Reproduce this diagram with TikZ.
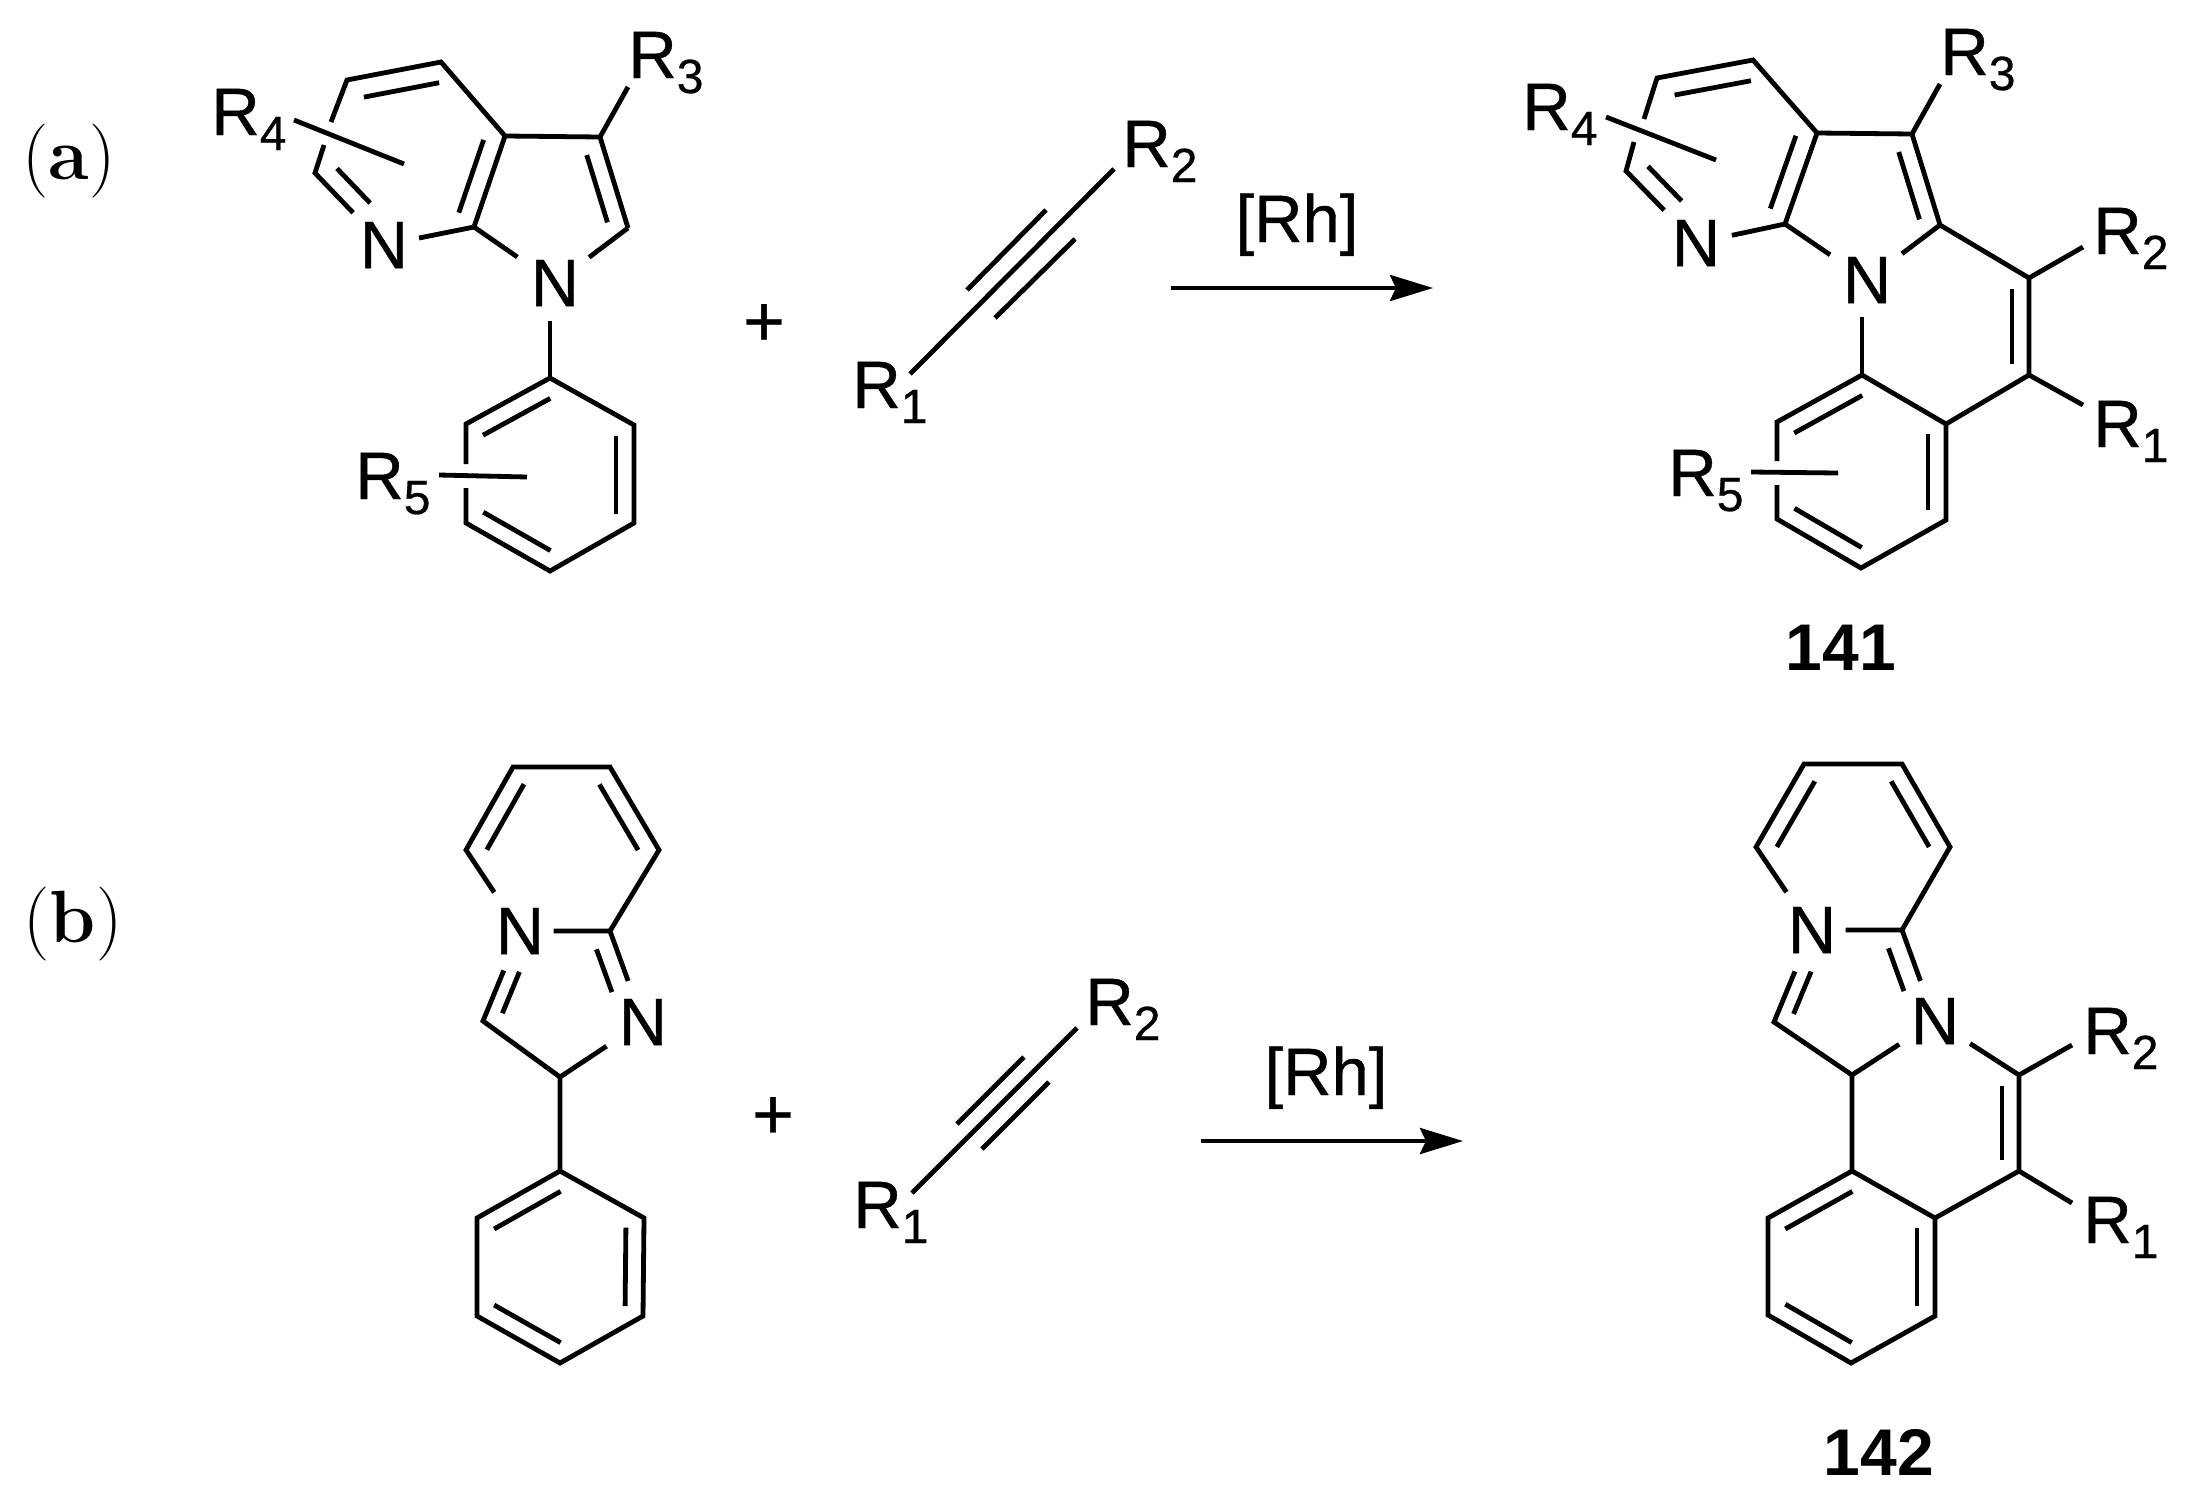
\documentclass[tikz,border=0pt]{standalone}
\usepackage{fontspec}
\newfontfamily\arial{Liberation Sans}
\newfontfamily\arialt[FakeBold=0.6]{Liberation Sans}
\usetikzlibrary{calc,arrows.meta}
\newcommand\inbond[5]{\draw[bond] ($(#1)!#4!(#2)!#3!90:(#2)$) -- ($(#1)!#5!(#2)!#3!90:(#2)$);}
\newcommand\Rs[1]{R\raisebox{-7.5pt}{\fontsize{24}{26}\selectfont #1}}
\tikzset{
  x=0.5pt,y=-0.5pt,
  bond/.style={line width=2.4pt,line join=miter,line cap=butt},
  atom/.style={circle,inner sep=0pt,minimum size=30pt,font=\arialt\fontsize{33.5}{40}\selectfont},
  rgroup/.style={anchor=base west,inner sep=0pt,font=\arialt\fontsize{33.5}{40}\selectfont},
  cat/.style={anchor=base,inner sep=0pt,font=\arialt\fontsize{33.5}{40}\selectfont},
  plus/.style={inner sep=0pt,font=\arialt\fontsize{36}{40}\selectfont},
  cpd/.style={inner sep=0pt,font=\arial\bfseries\fontsize{33}{38}\selectfont},
  tag/.style={inner sep=0pt,font=\fontsize{37}{40}\selectfont},
  rxn/.style={line width=2.3pt,-{Stealth[length=21.5pt,width=13pt,inset=3pt]}}
}
\begin{document}
\begin{tikzpicture}
\useasboundingbox (0,0) rectangle (2187,1499);
\fill[white] (0,0) rectangle (2187,1499);
% tags
\node[tag] (taga) at (69,161) {(\textbf{a})};
\node[tag] (tagb) at (73,924) {(\textbf{b})};

% ---------- reactant a
\coordinate (a1) at (441,62); \coordinate (a2) at (347,80); \coordinate (a3) at (315,173);
\coordinate (a4) at (474,227); \coordinate (a5) at (505,136); \coordinate (a6) at (600,137);
\coordinate (a7) at (628,228);
\coordinate (ag1) at (331,122); \coordinate (ag2) at (324,145);
\node[atom] (an) at (384,245) {N};
\node[atom] (an1) at (555,283) {N};
\coordinate (ap1) at (550,378); \coordinate (ap2) at (466,424); \coordinate (ap3) at (466,523);
\coordinate (ap4) at (550,571); \coordinate (ap5) at (634,523); \coordinate (ap6) at (634,425);
\coordinate (apg1) at (466,464); \coordinate (apg2) at (466,488);
\node[rgroup] (ar3) at (628,78) {\Rs{3}};
\node[rgroup] (ar4) at (211,135) {\Rs{4}};
\node[rgroup] (ar5) at (355,499) {\Rs{5}};
\coordinate (ar3e) at (628,87);
\coordinate (ar4s) at (294,120); \coordinate (ar4e) at (404,164);
\coordinate (ar5s) at (439,475); \coordinate (ar5e) at (527,477);
\draw[bond] (ag1) -- (a2) -- (a1) -- (a5) -- (a4);
\draw[bond,shorten >=5.5pt] (ag2) -- (a3) -- (an);
\draw[bond,shorten >=1pt] (a4) -- (an);
\draw[bond,shorten >=6pt] (a4) -- (an1);
\draw[bond] (a5) -- (a6) -- (a7);
\draw[bond,shorten >=4.5pt] (a7) -- (an1);
\draw[bond] (a6) -- (ar3e);
\draw[bond] (ar4s) -- (ar4e);
\draw[bond,shorten >=2pt] (ap1) -- (ap1 |- an1.south);
\draw[bond] (apg1) -- (ap2) -- (ap1) -- (ap6) -- (ap5) -- (ap4) -- (ap3) -- (apg2);
\draw[bond] (ar5s) -- (ar5e);
\inbond{a1}{a2}{10pt}{.06}{.86}
\inbond{a3}{an}{9.5pt}{.12}{.6}
\inbond{a5}{a4}{-9.5pt}{.11}{.91}
\inbond{a6}{a7}{-9pt}{.14}{.88}
\inbond{ap1}{ap2}{9pt}{.1}{.9}
\inbond{ap5}{ap6}{9pt}{.09}{.89}
\inbond{ap3}{ap4}{9pt}{.1}{.9}

% ---------- alkyne a
\node[plus] (plusa) at (764,325) {+};
\node[rgroup] (ar2) at (1122,167) {\Rs{2}};
\node[rgroup] (ar1) at (852,408) {\Rs{1}};
\coordinate (ay1) at (910,374); \coordinate (ay2) at (1114,169);
\coordinate (ay3) at (1046,210); \coordinate (ay4) at (967,290);
\coordinate (ay5) at (1075,239); \coordinate (ay6) at (995,318);
\draw[bond] (ay1) -- (ay2);
\draw[bond] (ay3) -- (ay4);
\draw[bond] (ay5) -- (ay6);
\node[cat] (rha) at (1297,242) {[Rh]};
\coordinate (ara) at (1171,288); \coordinate (arb) at (1433,288);
\draw[rxn] (ara) -- (arb);

% ---------- product a (141)
\coordinate (b1) at (1753,60); \coordinate (b2) at (1657,78); \coordinate (b3) at (1626,171);
\coordinate (b4) at (1785,224); \coordinate (b5) at (1817,133); \coordinate (b6) at (1912,134);
\coordinate (b7) at (1940,225); \coordinate (b8) at (2029,278); \coordinate (b9) at (2029,375);
\coordinate (bg1) at (1644,119); \coordinate (bg2) at (1634,142);
\node[atom] (bn) at (1696,243) {N};
\node[atom] (bn1) at (1867,280) {N};
\coordinate (bp1) at (1862,375); \coordinate (bp2) at (1777,422); \coordinate (bp3) at (1777,519);
\coordinate (bp4) at (1861,568); \coordinate (bp5) at (1946,520); \coordinate (bp6) at (1946,424);
\coordinate (bpg1) at (1777,461); \coordinate (bpg2) at (1777,485);
\node[rgroup] (br3) at (1940,75) {\Rs{3}};
\node[rgroup] (br4) at (1522,130) {\Rs{4}};
\node[rgroup] (br5) at (1668,496) {\Rs{5}};
\node[rgroup] (br2) at (2093,254) {\Rs{2}};
\node[rgroup] (br1) at (2093,447) {\Rs{1}};
\coordinate (br3e) at (1940,84);
\coordinate (br4s) at (1606,117); \coordinate (br4e) at (1716,160);
\coordinate (br5s) at (1751,472); \coordinate (br5e) at (1838,473);
\coordinate (br2e) at (2083,247); \coordinate (br1e) at (2083,405);
\draw[bond] (bg1) -- (b2) -- (b1) -- (b5) -- (b4);
\draw[bond,shorten >=6pt] (bg2) -- (b3) -- (bn);
\draw[bond,shorten >=1.5pt] (b4) -- (bn);
\draw[bond,shorten >=5.5pt] (b4) -- (bn1);
\draw[bond] (b5) -- (b6) -- (b7);
\draw[bond,shorten >=5pt] (b7) -- (bn1);
\draw[bond] (b6) -- (br3e);
\draw[bond] (b7) -- (b8) -- (b9) -- (bp6);
\draw[bond] (br2e) -- (b8);
\draw[bond] (br1e) -- (b9);
\draw[bond] (br4s) -- (br4e);
\draw[bond,shorten >=1.5pt] (bp1) -- (bp1 |- bn1.south);
\draw[bond] (bpg1) -- (bp2) -- (bp1) -- (bp6) -- (bp5) -- (bp4) -- (bp3) -- (bpg2);
\draw[bond] (br5s) -- (br5e);
\inbond{b1}{b2}{10pt}{.06}{.855}
\inbond{b3}{bn}{9.5pt}{.12}{.6}
\inbond{b5}{b4}{-9.5pt}{.1}{.9}
\inbond{b6}{b7}{-9pt}{.14}{.88}
\inbond{b8}{b9}{-8.5pt}{.11}{.89}
\inbond{bp1}{bp2}{9pt}{.1}{.9}
\inbond{bp5}{bp6}{9pt}{.1}{.9}
\inbond{bp3}{bp4}{9pt}{.1}{.9}
\node[cpd] (c141) at (1841,648) {141};

% ---------- reactant b
\coordinate (c1) at (513,767); \coordinate (c2) at (610,767); \coordinate (c3) at (659,850);
\coordinate (c4) at (610,931); \coordinate (c5) at (466,850); \coordinate (c6) at (483,1021);
\coordinate (c7) at (560,1077);
\node[atom] (cn) at (520,931) {N};
\node[atom] (cn2) at (643,1022) {N};
\coordinate (cp1) at (560,1171); \coordinate (cp2) at (477,1218); \coordinate (cp3) at (477,1316);
\coordinate (cp4) at (560,1363); \coordinate (cp5) at (643,1316); \coordinate (cp6) at (644,1218);
\draw[bond,shorten <=6.4pt] (cn) -- (c5) -- (c1) -- (c2) -- (c3) -- (c4) -- (cn);
\draw[bond,shorten <=4.5pt] (cn) -- (c6) -- (c7) -- (cp1);
\draw[bond,shorten >=5pt] (c4) -- (cn2);
\draw[bond,shorten >=5pt] (c7) -- (cn2);
\draw[bond] (cp1) -- (cp2) -- (cp3) -- (cp4) -- (cp5) -- (cp6) -- (cp1) -- cycle;
\inbond{c5}{c1}{-9pt}{.11}{.9}
\inbond{c2}{c3}{-9pt}{.1}{.89}
\inbond{cn}{c6}{7.5pt}{.39}{.85}
\inbond{c4}{cn2}{-9.5pt}{.13}{.6}
\inbond{cp1}{cp2}{9pt}{.1}{.9}
\inbond{cp5}{cp6}{9pt}{.1}{.9}
\inbond{cp3}{cp4}{9pt}{.1}{.9}

% ---------- alkyne b
\node[plus] (plusb) at (773,1118) {+};
\node[rgroup] (cr2) at (1085,1025) {\Rs{2}};
\node[rgroup] (cr1) at (853,1228) {\Rs{1}};
\coordinate (cy1) at (912,1193); \coordinate (cy2) at (1077,1028);
\coordinate (cy3) at (1024,1057); \coordinate (cy4) at (957,1124);
\coordinate (cy5) at (1049,1082); \coordinate (cy6) at (982,1149);
\draw[bond] (cy1) -- (cy2);
\draw[bond] (cy3) -- (cy4);
\draw[bond] (cy5) -- (cy6);
\node[cat] (rhb) at (1326,1095) {[Rh]};
\coordinate (crb) at (1201,1141); \coordinate (cra) at (1463,1141);
\draw[rxn] (crb) -- (cra);

% ---------- product b (142)
\coordinate (d1) at (1804,764); \coordinate (d2) at (1902,764); \coordinate (d3) at (1950,847);
\coordinate (d4) at (1902,930); \coordinate (d5) at (1756,847); \coordinate (d6) at (1774,1022);
\coordinate (d7) at (1852,1075); \coordinate (d8) at (2019,1075); \coordinate (d9) at (2019,1171);
\node[atom] (dn) at (1812,930) {N};
\node[atom] (dn2) at (1935,1021) {N};
\coordinate (dp1) at (1852,1171); \coordinate (dp2) at (1768,1218); \coordinate (dp3) at (1768,1315);
\coordinate (dp4) at (1851,1363); \coordinate (dp5) at (1935,1316); \coordinate (dp6) at (1935,1218);
\node[rgroup] (dr2) at (2083,1054) {\Rs{2}};
\node[rgroup] (dr1) at (2083,1243) {\Rs{1}};
\coordinate (dr2e) at (2072,1045); \coordinate (dr1e) at (2072,1203);
\draw[bond,shorten <=6pt] (dn) -- (d5) -- (d1) -- (d2) -- (d3) -- (d4) -- (dn);
\draw[bond,shorten <=5.5pt] (dn) -- (d6) -- (d7) -- (dp1);
\draw[bond,shorten >=4.5pt] (d4) -- (dn2);
\draw[bond,shorten >=4.5pt] (d7) -- (dn2);
\draw[bond,shorten <=4pt] (dn2) -- (d8) -- (d9) -- (dp6);
\draw[bond] (dr2e) -- (d8);
\draw[bond] (dr1e) -- (d9);
\draw[bond] (dp1) -- (dp2) -- (dp3) -- (dp4) -- (dp5) -- (dp6) -- (dp1) -- cycle;
\inbond{d5}{d1}{-9pt}{.11}{.9}
\inbond{d2}{d3}{-9pt}{.1}{.89}
\inbond{dn}{d6}{7.5pt}{.39}{.85}
\inbond{d4}{dn2}{-9.5pt}{.13}{.6}
\inbond{d8}{d9}{-8.5pt}{.11}{.89}
\inbond{dp1}{dp2}{9pt}{.1}{.9}
\inbond{dp5}{dp6}{9pt}{.1}{.9}
\inbond{dp3}{dp4}{9pt}{.1}{.9}
\node[cpd] (c142) at (1879,1452) {142};
\end{tikzpicture}
\end{document}
